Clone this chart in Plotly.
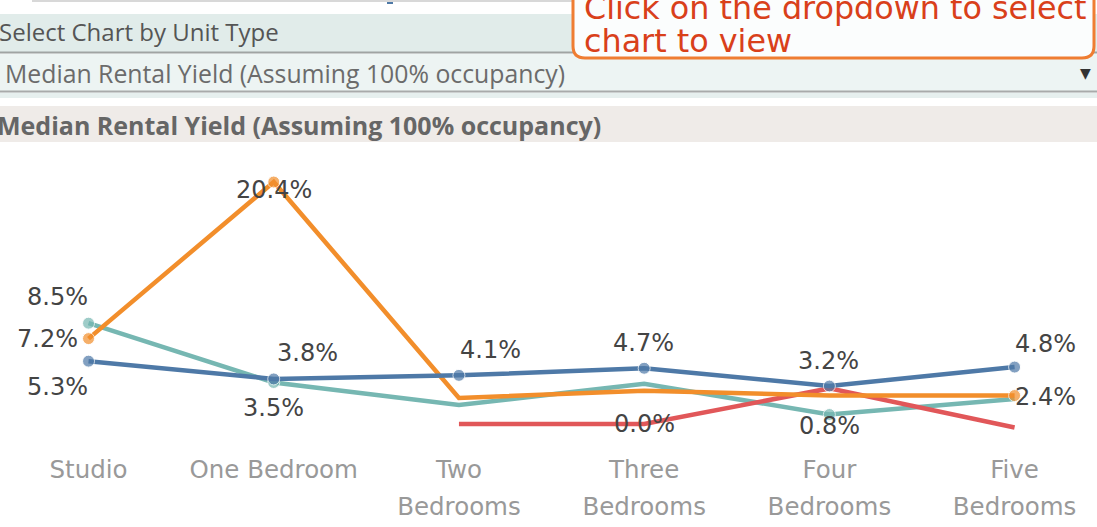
import plotly.graph_objects as go

# ---------------- data ----------------
category_line1 = ["Studio", "One Bedroom", "Two", "Three", "Four", "Five"]
category_line2 = ["", "", "Bedrooms", "Bedrooms", "Bedrooms", "Bedrooms"]
blue_vals = [5.3, 3.8, 4.1, 4.7, 3.2, 4.8]
orange_vals = [7.2, 20.4, 2.2, 2.8, 2.4, 2.4]
teal_vals = [8.5, 3.5, 1.6, 3.4, 0.8, 2.1]
red_vals = [None, None, 0.0, 0.0, 3.0, -0.3]

# which points carry a label (index list per series)
blue_labels = [0, 1, 2, 3, 4, 5]
orange_labels = [0, 1, 5]
teal_labels = [0, 1, 4]
red_labels = [3]

header_text = "Select Chart by Unit Type"
dropdown_text = "Median Rental Yield (Assuming 100% occupancy)"
title_text = "Median Rental Yield (Assuming 100% occupancy)"
callout_line1 = "Click on the dropdown to select"
callout_line2 = "chart to view"

# ---------------- layout helpers ----------------
W, H = 1097, 527
PLOT_TOP, PLOT_BOTTOM = 150, 452


def py(p):
    return 1 - p / H


def px(p):
    return p / W


BLUE = "#4e79a7"
ORANGE = "#f28e2b"
TEAL = "#76b7b2"
RED = "#e15759"

x_idx = list(range(len(category_line1)))

fig = go.Figure()


def add_series(vals, color, labeled, markers=True):
    sizes = [12 if (i in labeled and markers) else 0 for i in range(len(vals))]
    fig.add_trace(go.Scatter(
        x=x_idx, y=vals, mode="lines+markers",
        line=dict(color=color, width=4.5),
        marker=dict(color=color, size=sizes),
        connectgaps=False, hoverinfo="skip", showlegend=False))


add_series(teal_vals, TEAL, teal_labels)
add_series(red_vals, RED, red_labels, markers=False)
add_series(orange_vals, ORANGE, orange_labels)
add_series(blue_vals, BLUE, blue_labels)

# invisible carrier trace so the second tick-label row (xaxis2) is drawn
fig.add_trace(go.Scatter(x=x_idx, y=blue_vals, xaxis="x2", mode="markers",
                         marker=dict(opacity=0), hoverinfo="skip", showlegend=False))

# label offsets (pixels) per series/point
offsets = {
    "blue": {0: (-31, -26), 1: (34, 26), 2: (32, 25), 3: (-1, 25), 4: (-1, 25), 5: (31, 23)},
    "orange": {0: (-41, 0), 1: (0, -8), 5: (31, -1)},
    "teal": {0: (-31, 26), 1: (0, -26), 4: (0, -11)},
    "red": {3: (0, 0)},
}
series = {"blue": blue_vals, "orange": orange_vals, "teal": teal_vals, "red": red_vals}
label_sets = {"blue": blue_labels, "orange": orange_labels, "teal": teal_labels, "red": red_labels}

annotations = []
for name, vals in series.items():
    for i in label_sets[name]:
        dx, dy = offsets[name][i]
        annotations.append(dict(
            x=i, y=vals[i], xref="x", yref="y", text=f"{vals[i]:.1f}%",
            showarrow=False, xshift=dx, yshift=dy,
            font=dict(family="DejaVu Sans", size=24, color="#444444")))

# header texts
annotations += [
    dict(x=px(-3), y=py(32), xref="paper", yref="paper", xanchor="left", yanchor="middle",
         text=header_text, showarrow=False,
         font=dict(family="Open Sans", size=24, color="#555555")),
    dict(x=px(3), y=py(73), xref="paper", yref="paper", xanchor="left", yanchor="middle",
         text=dropdown_text, showarrow=False,
         font=dict(family="Open Sans", size=24.8, color="#6b6b6b")),
    dict(x=px(-5), y=py(125), xref="paper", yref="paper", xanchor="left", yanchor="middle",
         text="<b>" + title_text + "</b>", showarrow=False,
         font=dict(family="Open Sans", size=25, color="#666666")),
    dict(x=px(1085), y=py(73), xref="paper", yref="paper", xanchor="center", yanchor="middle",
         text="▼", showarrow=False,
         font=dict(family="DejaVu Sans", size=14, color="#333333")),
    dict(x=px(582), y=py(8), xref="paper", yref="paper", xanchor="left", yanchor="middle",
         text=callout_line1, showarrow=False, align="left",
         font=dict(family="DejaVu Sans", size=31.8, color="#d9401a")),
    dict(x=px(582), y=py(40), xref="paper", yref="paper", xanchor="left", yanchor="middle",
         text=callout_line2, showarrow=False, align="left",
         font=dict(family="DejaVu Sans", size=31.8, color="#d9401a")),
]


def rect(x0, y0, x1, y1, fill, line_w=0, line_c=None):
    return dict(type="rect", xref="paper", yref="paper",
                x0=px(x0), x1=px(x1), y0=py(y1), y1=py(y0),
                fillcolor=fill, line=dict(width=line_w, color=line_c or fill), layer="below")


def hline(x0, x1, y, color, w=1.5):
    return dict(type="line", xref="paper", yref="paper",
                x0=px(x0), x1=px(x1), y0=py(y), y1=py(y),
                line=dict(color=color, width=w), layer="above")


shapes = [
    hline(32, 575, 1, "#d8d8d8", 2),
    rect(387, -2, 393, 4, BLUE),
    rect(-2, 14, W + 2, 52, "#e1ecea"),
    hline(0, W, 52.5, "#a0a4a3", 2),
    rect(-2, 53.5, W + 2, 91, "#edf4f3"),
    hline(0, W, 91.5, "#a8aaaa", 2),
    rect(-2, 92.5, W + 2, 98, "#e6efee"),
    rect(-2, 106, W + 2, 142, "#efebe8"),
]

# rounded callout box (drawn in pixel space, converted to paper)
L, R, T, B, r = 573, 1094, -10, 58, 12
path = (f"M {px(L)},{py(T)} L {px(L)},{py(B - r)} Q {px(L)},{py(B)} {px(L + r)},{py(B)} "
        f"L {px(R - r)},{py(B)} Q {px(R)},{py(B)} {px(R)},{py(B - r)} L {px(R)},{py(T)} Z")
shapes.append(dict(type="path", xref="paper", yref="paper", path=path,
                   fillcolor="#fbfdfd", line=dict(color="#ef7d32", width=3), layer="above"))

tickfont = dict(family="DejaVu Sans", size=24.5, color="#999999")
common_x = dict(domain=[0, 1], range=[-0.478, 5.445], tickmode="array", tickvals=x_idx,
                showgrid=False, zeroline=False, showline=False, ticks="",
                automargin=False, tickfont=tickfont)

fig.update_layout(
    width=W, height=H,
    margin=dict(l=0, r=0, t=0, b=0),
    paper_bgcolor="white", plot_bgcolor="white",
    xaxis=dict(**common_x, ticktext=category_line1),
    xaxis2=dict(**common_x, ticktext=category_line2, overlaying="x", anchor="y",
                side="bottom", ticklabelstandoff=37),
    yaxis=dict(domain=[1 - PLOT_BOTTOM / H, 1 - PLOT_TOP / H], range=[-2.36, 23.10],
               showgrid=False, zeroline=False, showline=False, showticklabels=False,
               automargin=False),
    annotations=annotations,
    shapes=shapes,
)

fig.write_html("out.html", config={"displayModeBar": False},
               post_script="document.body.style.margin='0';document.body.style.overflow='hidden';")
